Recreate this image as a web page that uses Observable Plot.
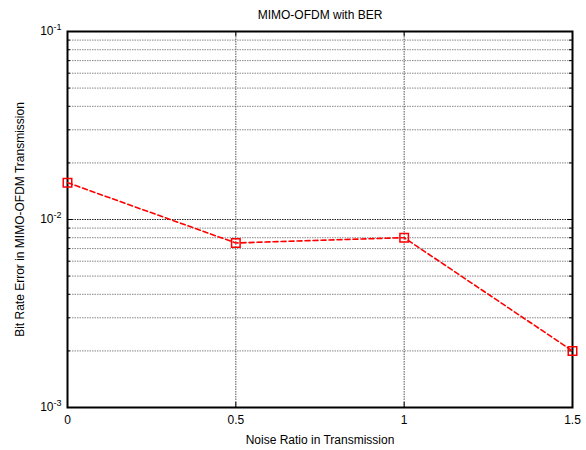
<!DOCTYPE html>
<html>
<head>
<meta charset="utf-8">
<script src="https://cdn.jsdelivr.net/npm/d3@7"></script>
<script src="https://cdn.jsdelivr.net/npm/@observablehq/plot@0.6"></script>
<style>
  body { margin: 0; background: #fff; }
  svg { font-family: "Liberation Sans", Arial, sans-serif; }
</style>
</head>
<body>
<div id="chart"></div>
<script>
const noise = [0, 0.5, 1, 1.5];
const ber = [0.0157, 0.0075, 0.0080, 0.0020];
const xTicks = [0, 0.5, 1, 1.5];
const xTickLabels = ["0", "0.5", "1", "1.5"];
const yMajor = [1e-3, 1e-2, 1e-1];
const yMajorLabels = ["10^-3", "10^-2", "10^-1"];
const yMinor = [2e-3,3e-3,4e-3,5e-3,6e-3,7e-3,8e-3,9e-3,2e-2,3e-2,4e-2,5e-2,6e-2,7e-2,8e-2,9e-2];
const title = "MIMO-OFDM with BER";
const xLabel = "Noise Ratio in Transmission";
const yLabel = "Bit Rate Error in MIMO-OFDM Transmission";

const data = noise.map((x, i) => ({x, y: ber[i]}));

const W = 586, H = 450;
const mL = 67, mR = 14, mT = 31, mB = 43;
const pw = W - mL - mR, ph = H - mT - mB;
const tk = 5, tkm = 3;

const yLab = d => yMajorLabels[yMajor.findIndex(v => Math.abs(Math.log10(v) - Math.log10(d)) < 1e-6)] ?? "";
const xLab = d => xTickLabels[xTicks.findIndex(v => Math.abs(v - d) < 1e-9)] ?? "";

const chart = Plot.plot({
  width: W, height: H,
  marginLeft: mL, marginRight: mR, marginTop: mT, marginBottom: mB,
  style: {fontFamily: "Liberation Sans, Arial, sans-serif", fontSize: "12px", color: "#000", background: "#fff"},
  x: {domain: [0, 1.5]},
  y: {type: "log", domain: [1e-3, 1e-1]},
  marks: [
    Plot.gridY(yMinor, {stroke: "#888", strokeOpacity: 1, strokeWidth: 1, strokeDasharray: "1.5,1"}),
    Plot.gridY([1e-2], {stroke: "#222", strokeOpacity: 1, strokeWidth: 1, strokeDasharray: "1.5,1"}),
    Plot.gridX([0.5, 1], {stroke: "#555", strokeOpacity: 1, strokeWidth: 1, strokeDasharray: "1.5,1"}),
    Plot.tickY(yMajor, {y: d => d, insetRight: pw - tk, stroke: "#000"}),
    Plot.tickY(yMajor, {y: d => d, insetLeft: pw - tk, stroke: "#000"}),
    Plot.tickY(yMinor, {y: d => d, insetRight: pw - tkm, stroke: "#000"}),
    Plot.tickY(yMinor, {y: d => d, insetLeft: pw - tkm, stroke: "#000"}),
    Plot.tickX(xTicks, {x: d => d, insetTop: ph - tk, stroke: "#000"}),
    Plot.tickX(xTicks, {x: d => d, insetBottom: ph - tk, stroke: "#000"}),
    Plot.axisX(xTicks, {tickSize: 0, tickPadding: 8, tickFormat: xLab, fontSize: 12,
      label: xLabel, labelAnchor: "center", labelOffset: 36, labelArrow: "none"}),
    Plot.axisY(yMajor, {tickSize: 0, tickPadding: 6, tickFormat: yLab, fontSize: 12,
      label: yLabel, labelAnchor: "center", labelOffset: 52, labelArrow: "none"}),
    Plot.frame({stroke: "#000", strokeWidth: 2}),
    Plot.line(data, {x: "x", y: "y", stroke: "#ff0000", strokeWidth: 1.6, strokeDasharray: "5,3"}),
    Plot.dot(data, {x: "x", y: "y", symbol: "square", r: 4.8, stroke: "#ff0000", strokeWidth: 1.5, fill: "none"}),
    Plot.text([title], {frameAnchor: "top", dy: -21, text: d => d, fontSize: 12, fill: "#000"})
  ]
});

d3.select(chart).selectAll("text").each(function() {
  const s = this.textContent;
  const m = /^10\^(-?\d+)$/.exec(s);
  if (m) {
    const tsp = this.querySelector("tspan");
    const target = tsp ? d3.select(tsp) : d3.select(this);
    target.text(null);
    target.append("tspan").text("10");
    target.append("tspan").attr("dy", "-0.6em").attr("font-size", "9px").text(m[1]);
  }
});

document.getElementById("chart").appendChild(chart);
</script>
</body>
</html>
